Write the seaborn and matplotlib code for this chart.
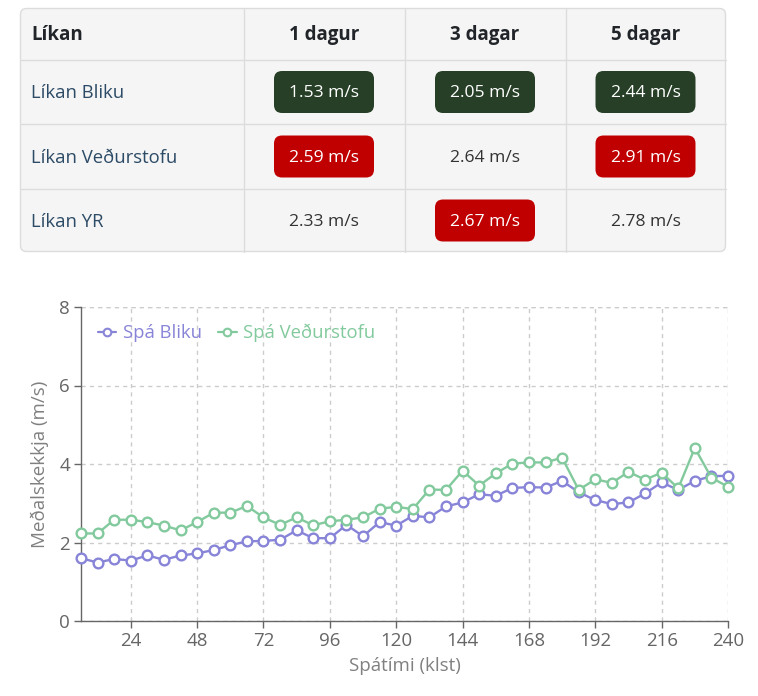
import numpy as np
import pandas as pd
import matplotlib
matplotlib.use("Agg")
import matplotlib.pyplot as plt
from matplotlib.patches import FancyBboxPatch
from matplotlib.lines import Line2D
import seaborn as sns

# ---------------- data ----------------
table_models = ["Líkan Bliku", "Líkan Veðurstofu", "Líkan YR"]
table_columns = ["1 dagur", "3 dagar", "5 dagar"]
table_header = "Líkan"
err_1_dagur = [1.53, 2.59, 2.33]
err_3_dagar = [2.05, 2.64, 2.67]
err_5_dagar = [2.44, 2.91, 2.78]

hours = list(range(6, 241, 6))
spa_bliku = [1.60, 1.49, 1.58, 1.54, 1.67, 1.56, 1.67, 1.72, 1.81, 1.93,
             2.03, 2.04, 2.07, 2.31, 2.11, 2.11, 2.45, 2.16, 2.52, 2.43,
             2.68, 2.64, 2.92, 3.02, 3.23, 3.19, 3.39, 3.41, 3.40, 3.57,
             3.28, 3.08, 2.98, 3.02, 3.25, 3.53, 3.34, 3.57, 3.69, 3.70]
spa_vedurstofu = [2.23, 2.23, 2.58, 2.58, 2.52, 2.43, 2.31, 2.52, 2.76, 2.76,
                  2.93, 2.64, 2.45, 2.64, 2.44, 2.54, 2.58, 2.64, 2.86, 2.91,
                  2.85, 3.35, 3.34, 3.83, 3.45, 3.76, 4.01, 4.04, 4.04, 4.16,
                  3.34, 3.61, 3.52, 3.80, 3.60, 3.78, 3.38, 4.41, 3.65, 3.42]
series_names = ["Spá Bliku", "Spá Veðurstofu"]
x_ticks = [24, 48, 72, 96, 120, 144, 168, 192, 216, 240]
y_ticks = [0, 2, 4, 6, 8]
x_label = "Spátími (klst)"
y_label = "Meðalskekkja (m/s)"

# ---------------- style ----------------
sns.set_theme(style="white")
plt.rcParams["font.family"] = ["Open Sans", "DejaVu Sans"]

W, H = 758, 696
fig = plt.figure(figsize=(W / 100, H / 100), dpi=100)
fig.patch.set_facecolor("white")

# ---------------- table ----------------
tab = fig.add_axes([0, 0, 1, 1])
tab.set_xlim(0, W)
tab.set_ylim(H, 0)
tab.axis("off")

tx0, tx1, ty0, ty1 = 20.5, 725.5, 8.5, 251.5
tab.add_patch(FancyBboxPatch((tx0, ty0), tx1 - tx0, ty1 - ty0,
                             boxstyle="round,pad=0,rounding_size=6",
                             facecolor="#f5f5f5", edgecolor="#dcdcdc", lw=1.0))
col_edges = [tx0, 243.5, 404.5, 565.5, tx1]
row_edges = [ty0, 59.5, 123.5, 188.5, ty1]
for x in col_edges[1:-1]:
    tab.plot([x, x], [ty0, ty1], color="#dcdcdc", lw=1.0)
for y in row_edges[1:-1]:
    tab.plot([tx0, tx1], [y, y], color="#dcdcdc", lw=1.0)

row_c = [(row_edges[i] + row_edges[i + 1]) / 2 for i in range(4)]
col_c = [(col_edges[i] + col_edges[i + 1]) / 2 for i in range(4)]

tab.text(31, row_c[0] + 1, table_header, ha="left", va="center",
         fontsize=13.5, fontweight="bold", color="#212529")
for j, c in enumerate(table_columns):
    tab.text(col_c[j + 1], row_c[0] + 1, c, ha="center", va="center",
             fontsize=13.5, fontweight="bold", color="#212529")

cols = [err_1_dagur, err_3_dagar, err_5_dagar]
for i, m in enumerate(table_models):
    tab.text(31, row_c[i + 1] + 2, m, ha="left", va="center",
             fontsize=13.3, color="#2c4b66")
    for j, vals in enumerate(cols):
        v = vals[i]
        cx, cy = col_c[j + 1], row_c[i + 1]
        best = int(np.argmin(vals)) == i
        worst = int(np.argmax(vals)) == i
        tcolor = "#333333"
        if best or worst:
            fc = "#263f26" if best else "#c00000"
            tab.add_patch(FancyBboxPatch((cx - 50, cy - 20.5), 100, 42,
                                         boxstyle="round,pad=0,rounding_size=8",
                                         facecolor=fc, edgecolor="none"))
            tcolor = "white"
        tab.text(cx, cy + 1.5, f"{v:.2f} m/s", ha="center", va="center",
                 fontsize=12.6, color=tcolor)

# ---------------- chart ----------------
ax_l, ax_r, ax_t, ax_b = 81, 728, 307, 621
ax = fig.add_axes([ax_l / W, 1 - ax_b / H, (ax_r - ax_l) / W, (ax_b - ax_t) / H])
ax.set_facecolor("none")

df = pd.DataFrame({"hour": hours * 2,
                   "val": spa_bliku + spa_vedurstofu,
                   "series": [series_names[0]] * len(hours) + [series_names[1]] * len(hours)})
palette = {series_names[0]: "#8884d8", series_names[1]: "#82ca9d"}
sns.lineplot(data=df, x="hour", y="val", hue="series", palette=palette, ax=ax,
             lw=1.7, marker="o", markersize=7, markerfacecolor="white",
             markeredgewidth=1.7, legend=False, zorder=3, clip_on=False)
for line, name in zip(ax.get_lines(), series_names):
    line.set_markeredgecolor(palette[name])

ax.set_xlim(6, 240)
ax.set_ylim(0, 8)
ax.set_xticks(x_ticks)
ax.set_yticks(y_ticks)
ax.grid(True, color="#cccccc", linestyle=(0, (3, 3)), lw=1.0)
ax.axhline(8, color="#cccccc", linestyle=(0, (3, 3)), lw=1.0, zorder=0)
for s in ["top", "right"]:
    ax.spines[s].set_visible(False)
for s in ["left", "bottom"]:
    ax.spines[s].set_color("#666666")
    ax.spines[s].set_linewidth(1.0)
ax.tick_params(axis="both", colors="#666666", labelsize=13.5, length=5, width=1,
               direction="out", pad=3, left=True, bottom=True)
ax.set_xlabel(x_label, fontsize=13.5, color="#808080", labelpad=5)
ax.set_ylabel(y_label, fontsize=13.5, color="#808080", labelpad=7)

handles = [Line2D([0], [0], color=palette[n], lw=1.6, marker="o", markersize=5.5,
                  markerfacecolor="white", markeredgecolor=palette[n],
                  markeredgewidth=1.5) for n in series_names]
leg = ax.legend(handles, series_names, loc="upper left", bbox_to_anchor=(0.0, 1.0),
                frameon=False, ncol=2, fontsize=13.3, handlelength=1.0,
                handletextpad=0.35, columnspacing=0.9)
for t, n in zip(leg.get_texts(), series_names):
    t.set_color(palette[n])

fig.savefig("out.png", dpi=100)
